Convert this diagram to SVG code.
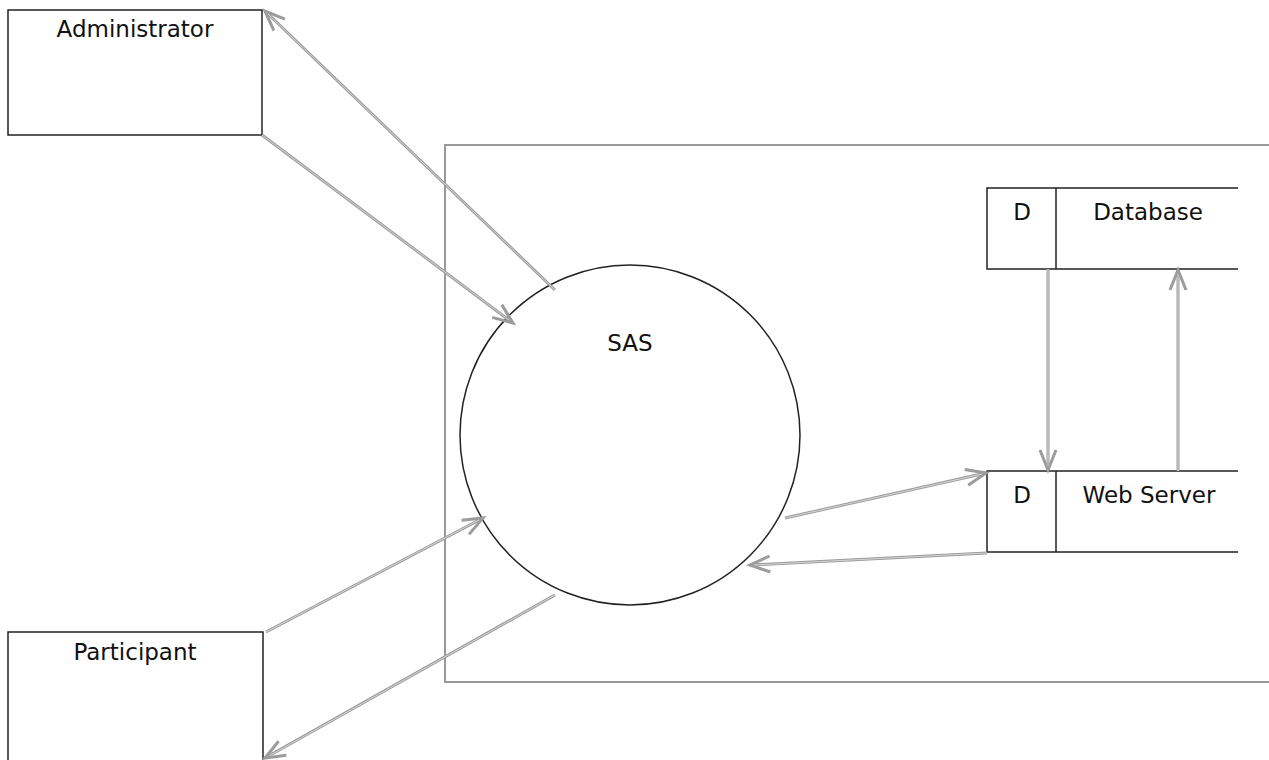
<svg xmlns="http://www.w3.org/2000/svg" width="1269" height="760" viewBox="0 0 1269 760">
  <defs>
    <style>
      .box { fill: #ffffff; stroke: #222222; stroke-width: 1.5; }
      .edge { fill: none; stroke: #222222; stroke-width: 1.5; }
      .sys { fill: none; stroke: #999999; stroke-width: 2; }
      .label { font-family: "DejaVu Sans", Verdana, sans-serif; font-size: 23px; fill: #111111; text-anchor: middle; }
      .flow { fill: none; stroke: #9c9c9c; stroke-width: 3; }
      .flow-in { fill: none; stroke: #d6d6d6; stroke-width: 1; }
    </style>
    <marker id="head" markerUnits="userSpaceOnUse" markerWidth="30" markerHeight="24" viewBox="-22 -12 30 24" refX="0" refY="0" orient="auto">
      <path d="M-20,-8 L0,0 L-20,8" fill="none" stroke="#9c9c9c" stroke-width="3"/>
    </marker>
  </defs>

  <rect width="1269" height="760" fill="#ffffff"/>

  <!-- system boundary -->
  <path class="sys" d="M1269,145 L445,145 L445,682 L1269,682"/>

  <g id="administrator">
    <rect class="box" x="8" y="10" width="254" height="125"/>
    <text class="label" x="135" y="37">Administrator</text>
  </g>

  <g id="participant">
    <path class="edge" d="M8,760 L8,632 L263,632 L263,760"/>
    <text class="label" x="135" y="660">Participant</text>
  </g>

  <g id="sas">
    <circle class="box" cx="630" cy="435" r="170"/>
    <text class="label" x="630" y="351">SAS</text>
  </g>

  <g id="database">
    <path class="edge" d="M1238,188 L987,188 L987,269 L1238,269 M1056,188 L1056,269"/>
    <text class="label" x="1022" y="220">D</text>
    <text class="label" x="1148" y="220">Database</text>
  </g>

  <g id="webserver">
    <path class="edge" d="M1238,471 L987,471 L987,552 L1238,552 M1056,471 L1056,552"/>
    <text class="label" x="1022" y="503">D</text>
    <text class="label" x="1149" y="503">Web Server</text>
  </g>

  <g id="connectors">
    <!-- SAS to Administrator -->
    <path class="flow" d="M555,290 L265,11" marker-end="url(#head)"/>
    <path class="flow-in" d="M555,290 L268,14"/>
    <!-- Administrator to SAS -->
    <path class="flow" d="M262,135 L513,323" marker-end="url(#head)"/>
    <path class="flow-in" d="M262,135 L509,320"/>
    <!-- Participant to SAS -->
    <path class="flow" d="M266,632 L483,518" marker-end="url(#head)"/>
    <path class="flow-in" d="M266,632 L479,520"/>
    <!-- SAS to Participant -->
    <path class="flow" d="M555,595 L265,758" marker-end="url(#head)"/>
    <path class="flow-in" d="M555,595 L269,756"/>
    <!-- SAS to Web Server -->
    <path class="flow" d="M785,518 L986,473" marker-end="url(#head)"/>
    <path class="flow-in" d="M785,518 L982,474"/>
    <!-- Web Server to SAS -->
    <path class="flow" d="M987,553 L750,565" marker-end="url(#head)"/>
    <path class="flow-in" d="M987,553 L754,565"/>
    <!-- Database to Web Server -->
    <path class="flow" d="M1048,269 L1048,470" marker-end="url(#head)"/>
    <path class="flow-in" d="M1048,269 L1048,466"/>
    <!-- Web Server to Database -->
    <path class="flow" d="M1178,471 L1178,270" marker-end="url(#head)"/>
    <path class="flow-in" d="M1178,471 L1178,274"/>
  </g>
</svg>
